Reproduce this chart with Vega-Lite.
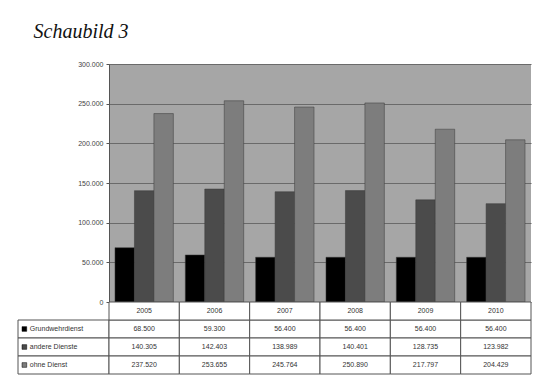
{
  "$schema": "https://vega.github.io/schema/vega-lite/v6.json",
  "padding": {"left": 17, "top": 22, "right": 4, "bottom": 2},
  "background": "white",
  "title": {"text": "Schaubild 3", "anchor": "start", "font": "Liberation Serif", "fontStyle": "italic", "fontWeight": "normal", "fontSize": 20, "color": "#111", "dx": 16, "offset": 18},
  "datasets": {
    "d": [
      {"year": "2005", "series": "Grundwehrdienst", "value": 68500},
      {"year": "2005", "series": "andere Dienste", "value": 140305},
      {"year": "2005", "series": "ohne Dienst", "value": 237520},
      {"year": "2006", "series": "Grundwehrdienst", "value": 59300},
      {"year": "2006", "series": "andere Dienste", "value": 142403},
      {"year": "2006", "series": "ohne Dienst", "value": 253655},
      {"year": "2007", "series": "Grundwehrdienst", "value": 56400},
      {"year": "2007", "series": "andere Dienste", "value": 138989},
      {"year": "2007", "series": "ohne Dienst", "value": 245764},
      {"year": "2008", "series": "Grundwehrdienst", "value": 56400},
      {"year": "2008", "series": "andere Dienste", "value": 140401},
      {"year": "2008", "series": "ohne Dienst", "value": 250890},
      {"year": "2009", "series": "Grundwehrdienst", "value": 56400},
      {"year": "2009", "series": "andere Dienste", "value": 128735},
      {"year": "2009", "series": "ohne Dienst", "value": 217797},
      {"year": "2010", "series": "Grundwehrdienst", "value": 56400},
      {"year": "2010", "series": "andere Dienste", "value": 123982},
      {"year": "2010", "series": "ohne Dienst", "value": 204429}
    ],
    "legend": [
      {"series": "Grundwehrdienst"},
      {"series": "andere Dienste"},
      {"series": "ohne Dienst"}
    ]
  },
  "columns": 2,
  "spacing": 0,
  "bounds": "flush",
  "concat": [
    {
      "width": 91,
      "height": 238,
      "data": {"values": [{"a": 1}]},
      "mark": {"type": "point", "opacity": 0},
      "encoding": {}
    },
    {
      "width": 422,
      "height": 238,
      "data": {"name": "d"},
      "view": {"fill": "#a6a6a6", "stroke": null},
      "mark": {"type": "bar", "stroke": "#3a3a3a", "strokeWidth": 0.5},
      "encoding": {
        "x": {"field": "year", "type": "nominal", "scale": {"paddingInner": 0.17, "paddingOuter": 0.085}, "axis": null},
        "xOffset": {"field": "series", "type": "nominal", "sort": ["Grundwehrdienst", "andere Dienste", "ohne Dienst"], "scale": {"paddingInner": 0, "paddingOuter": 0}},
        "y": {
          "field": "value", "type": "quantitative",
          "scale": {"domain": [0, 300000], "nice": false},
          "axis": {
            "values": [0, 50000, 100000, 150000, 200000, 250000, 300000],
            "format": ",d",
            "labelExpr": "replace(datum.label, ',', '.')",
            "labelFontSize": 7, "labelColor": "#444", "labelPadding": 3,
            "tickSize": 3, "tickColor": "#555", "domainColor": "#555",
            "gridColor": "#6a6a6a", "gridWidth": 1.2, "title": null
          }
        },
        "color": {"field": "series", "type": "nominal", "scale": {"domain": ["Grundwehrdienst", "andere Dienste", "ohne Dienst"], "range": ["#000000", "#4b4b4b", "#7d7d7d"]}, "legend": null}
      }
    },
    {
      "width": 91,
      "height": 72,
      "data": {"name": "legend"},
      "encoding": {
        "y": {"field": "series", "type": "nominal", "scale": {"domain": ["Jahr", "Grundwehrdienst", "andere Dienste", "ohne Dienst"], "paddingInner": 0, "paddingOuter": 0}, "axis": null}
      },
      "layer": [
        {
          "mark": {"type": "rect", "fill": "white", "stroke": "#555", "strokeWidth": 1},
          "encoding": {
            "x": {"datum": 0, "type": "quantitative", "scale": {"domain": [0, 1]}, "axis": null},
            "x2": {"datum": 1}
          }
        },
        {
          "mark": {"type": "square", "size": 22, "opacity": 1, "stroke": "#000", "strokeWidth": 0.5},
          "encoding": {
            "x": {"datum": 0.07, "type": "quantitative"},
            "color": {"field": "series", "type": "nominal", "scale": {"domain": ["Grundwehrdienst", "andere Dienste", "ohne Dienst"], "range": ["#000000", "#4b4b4b", "#7d7d7d"]}, "legend": null}
          }
        },
        {
          "mark": {"type": "text", "align": "left", "fontSize": 7, "color": "#333"},
          "encoding": {
            "x": {"datum": 0.13, "type": "quantitative"},
            "text": {"field": "series"}
          }
        }
      ]
    },
    {
      "width": 422,
      "height": 72,
      "data": {"name": "d"},
      "transform": [{"calculate": "replace(format(datum.value, ',d'), ',', '.')", "as": "label"}],
      "encoding": {
        "x": {"field": "year", "type": "nominal", "scale": {"paddingInner": 0, "paddingOuter": 0}, "axis": null}
      },
      "layer": [
        {
          "mark": {"type": "rect", "fill": "white", "stroke": "#555", "strokeWidth": 1},
          "encoding": {
            "y": {"field": "series", "type": "nominal", "scale": {"domain": ["Jahr", "Grundwehrdienst", "andere Dienste", "ohne Dienst"], "paddingInner": 0, "paddingOuter": 0}, "axis": null}
          }
        },
        {
          "mark": {"type": "text", "fontSize": 7, "color": "#333"},
          "encoding": {
            "y": {"field": "series", "type": "nominal"},
            "text": {"field": "label"}
          }
        },
        {
          "transform": [{"filter": "datum.series == 'Grundwehrdienst'"}],
          "mark": {"type": "rect", "fill": "white", "stroke": "#555", "strokeWidth": 1},
          "encoding": {"y": {"datum": "Jahr", "type": "nominal"}}
        },
        {
          "transform": [{"filter": "datum.series == 'Grundwehrdienst'"}],
          "mark": {"type": "text", "fontSize": 7, "color": "#333"},
          "encoding": {"y": {"datum": "Jahr", "type": "nominal"}, "text": {"field": "year"}}
        }
      ]
    }
  ],
  "config": {"view": {"stroke": null}, "font": "Liberation Sans"}
}
